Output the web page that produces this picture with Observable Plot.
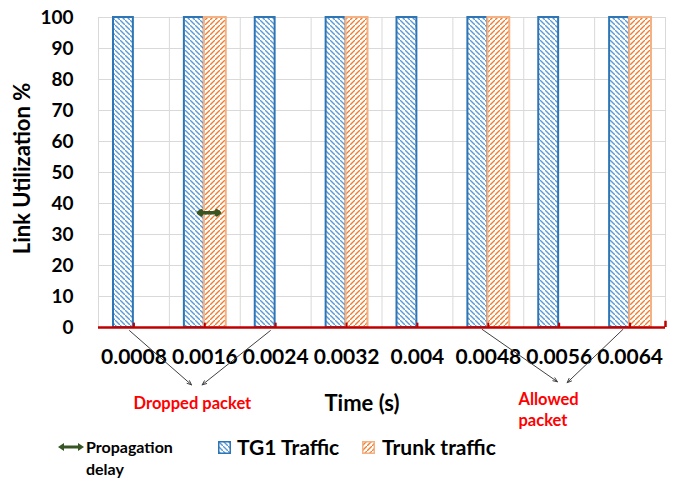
<!DOCTYPE html>
<html><head><meta charset="utf-8">
<script src="https://cdn.jsdelivr.net/npm/d3@7"></script>
<script src="https://cdn.jsdelivr.net/npm/@observablehq/plot@0.6"></script>
<style>
body{margin:0;background:#fff;font-family:Lato,"Open Sans",sans-serif;}
#wrap{position:relative;width:680px;height:482px;overflow:hidden;}
#legend{position:absolute;left:0;top:430px;width:680px;height:52px;font-weight:bold;color:#000;}
.lg{position:absolute;white-space:nowrap;}
</style></head>
<body>
<svg width="0" height="0" style="position:absolute">
 <defs>
  <pattern id="hatchBlue" patternUnits="userSpaceOnUse" width="5" height="5">
   <rect width="5" height="5" fill="#fff"/>
   <path d="M-1,-1 l2,2 M0,0 l5,5 M4,4 l2,2" stroke="#5b9bd5" stroke-width="1.4"/>
  </pattern>
  <pattern id="hatchOrange" patternUnits="userSpaceOnUse" width="5" height="5">
   <rect width="5" height="5" fill="#fff"/>
   <path d="M-1,6 l2,-2 M0,5 l5,-5 M4,1 l2,-2" stroke="#ed7d31" stroke-width="1.4"/>
  </pattern>
 </defs>
</svg>
<div id="wrap">
 <div id="chart"></div>
 <div id="legend">
  <svg class="lg" style="left:58px;top:12px" width="26" height="10"><path d="M4,5 H22" stroke="#375623" stroke-width="3"/><path d="M0,5 L6,1 L6,9 Z M26,5 L20,1 L20,9 Z" fill="#375623"/></svg>
  <div class="lg" style="left:86px;top:6px;font-size:16px;line-height:22px;">Propagation<br>delay</div>
  <svg class="lg" style="left:218px;top:11px" width="13" height="13"><rect x="0.75" y="0.75" width="11.5" height="11.5" fill="url(#hatchBlue)" stroke="#2e75b6" stroke-width="1.5"/></svg>
  <div class="lg" style="left:237px;top:3px;font-size:21px;line-height:28px;">TG1 Traffic</div>
  <svg class="lg" style="left:362px;top:11px" width="13" height="13"><rect x="0.75" y="0.75" width="11.5" height="11.5" fill="url(#hatchOrange)" stroke="#f4b183" stroke-width="1.5"/></svg>
  <div class="lg" style="left:382px;top:3px;font-size:21px;line-height:28px;">Trunk traffic</div>
 </div>
</div>
<script>
// ---- data ----
const times = [0.0008, 0.0016, 0.0024, 0.0032, 0.004, 0.0048, 0.0056, 0.0064];
const timeLabels = ["0.0008", "0.0016", "0.0024", "0.0032", "0.004", "0.0048", "0.0056", "0.0064"];
const tg1Traffic = [100, 100, 100, 100, 100, 100, 100, 100];
const trunkTraffic = [0, 100, 0, 100, 0, 100, 0, 100];
const yTicks = [0, 10, 20, 30, 40, 50, 60, 70, 80, 90, 100];

// annotations (data units)
const droppedArrows = [
  {x1: 0.00075, y1: -1, x2: 0.00145, y2: -18.5},
  {x1: 0.00234, y1: -1, x2: 0.00157, y2: -18.5}
];
const allowedArrows = [
  {x1: 0.00473, y1: -0.6, x2: 0.00558, y2: -17.5},
  {x1: 0.00632, y1: -0.6, x2: 0.00569, y2: -17.8}
];
const droppedLabel = [{x: 0.00146, y: -24.5, text: "Dropped packet"}];
const allowedLabel = [{x: 0.00514, y: -26.2, text: "Allowed\npacket"}];
const delayArrow = {center: 0.001647, left: 0.001528, right: 0.001765, y: 37};

// ---- derived ----
const step = times[1] - times[0];
const data = times.map((t, i) => ({t, label: timeLabels[i], tg1: tg1Traffic[i], trunk: trunkTraffic[i]}));
const bounds = times.map(t => t - step / 2).concat([times[times.length - 1] + step / 2]);

const chart = Plot.plot({
  width: 680, height: 430,
  marginLeft: 98, marginRight: 15, marginTop: 17, marginBottom: 103,
  style: {fontFamily: "Lato, 'Open Sans', sans-serif", color: "#000", background: "#fff", overflow: "visible"},
  x: {type: "linear", domain: [bounds[0], bounds[bounds.length - 1]]},
  y: {domain: [0, 100]},
  marks: [
    Plot.ruleY(yTicks, {stroke: "#d9d9d9", strokeWidth: 1}),
    Plot.ruleX(bounds, {stroke: "#d9d9d9", strokeWidth: 1}),
    Plot.rect(data, {x1: d => d.t - step / 2, x2: d => d.t + step / 2, y1: 0, y2: "tg1",
      insetLeft: 15, insetRight: 36, fill: "url(#hatchBlue)", stroke: "#2e75b6", strokeWidth: 2}),
    Plot.rect(data.filter(d => d.trunk > 0), {x1: d => d.t - step / 2, x2: d => d.t + step / 2, y1: 0, y2: "trunk",
      insetLeft: 35, insetRight: 14, fill: "url(#hatchOrange)", stroke: "#f4b183", strokeWidth: 2}),
    Plot.ruleY([0], {stroke: "#c00000", strokeWidth: 2.5}),
    Plot.ruleX(times, {y1: 0, y2: 1.4, stroke: "#c00000", strokeWidth: 2}),
    Plot.ruleX([bounds[bounds.length - 1]], {y1: 0, y2: 2, stroke: "#c00000", strokeWidth: 2.5}),
    Plot.axisY({ticks: yTicks, tickSize: 0, tickPadding: 25, fontSize: 19, fontWeight: "bold", label: null}),
    Plot.axisX({ticks: times, tickFormat: d => timeLabels[times.indexOf(d)], tickSize: 0, tickPadding: 22,
      fontSize: 21, fontWeight: "bold", label: null}),
    Plot.text(["Link Utilization %"], {frameAnchor: "left", dx: -76, dy: -4, rotate: -90, textAnchor: "middle",
      lineAnchor: "middle", fontSize: 22, fontWeight: "bold"}),
    Plot.text(["Time (s)"], {frameAnchor: "bottom", dx: -20, dy: 76, lineAnchor: "middle", fontSize: 22, fontWeight: "bold"}),
    Plot.arrow(droppedArrows.concat(allowedArrows), {x1: "x1", y1: "y1", x2: "x2", y2: "y2",
      stroke: "#404040", strokeWidth: 1, headLength: 7, headAngle: 45}),
    Plot.text(droppedLabel, {x: "x", y: "y", text: "text", fill: "#ff0000", fontSize: 16.5, fontWeight: "bold"}),
    Plot.text(allowedLabel, {x: "x", y: "y", text: "text", fill: "#ff0000", fontSize: 16.5, fontWeight: "bold",
      textAnchor: "start", lineHeight: 1.3}),
    Plot.arrow([{x1: delayArrow.center, x2: delayArrow.left}, {x1: delayArrow.center, x2: delayArrow.right}],
      {x1: "x1", x2: "x2", y1: delayArrow.y, y2: delayArrow.y, stroke: "#375623", strokeWidth: 3.5, headLength: 5, headAngle: 70})
  ]
});
document.getElementById("chart").appendChild(chart);
</script>
</body></html>
